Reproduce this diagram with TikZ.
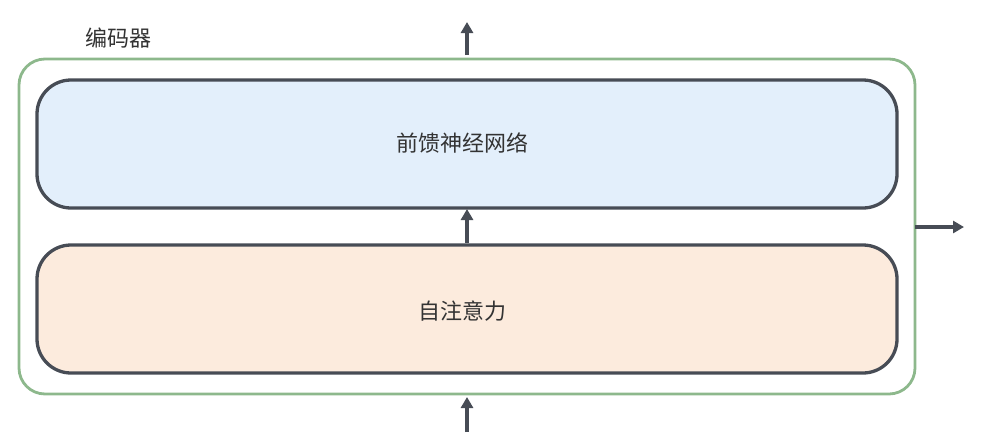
\documentclass[tikz,border=0pt]{standalone}
\usepackage{fontspec}
\newfontfamily\cjk{Noto Sans CJK SC}
\usetikzlibrary{arrows.meta}
\definecolor{edge}{HTML}{474C55}
\definecolor{grn}{HTML}{8DB88C}
\definecolor{bluefill}{HTML}{E3EFFB}
\definecolor{orangefill}{HTML}{FCEBDD}
\definecolor{txt}{HTML}{333333}
\begin{document}
\begin{tikzpicture}[x=1pt,y=-1pt,
  layerbox/.style={draw=edge,line width=3.3pt,rounded corners=34pt},
  flow/.style={draw=edge,line width=3.8pt,-{Triangle[length=11pt,width=12pt]}},
  lbl/.style={font=\cjk\fontsize{22}{25}\selectfont,text=txt,inner sep=0pt}]
\useasboundingbox (0,0) rectangle (981,447);
\draw[grn,line width=2.8pt,rounded corners=26pt] (19,59) rectangle (915,394);
\node[lbl] (enc) at (118,38) {编码器};
\filldraw[layerbox,fill=bluefill] (37,80) rectangle (897,208);
\node[lbl] (ffn) at (462,143) {前馈神经网络};
\filldraw[layerbox,fill=orangefill] (37,245) rectangle (897,373);
\node[lbl] (att) at (462,311) {自注意力};
\coordinate (ffnBot) at (467,209);
\coordinate (attTop) at (467,243);
\coordinate (outTop) at (467,22);
\coordinate (encTop) at (467,55);
\coordinate (encBot) at (467,397);
\coordinate (inBot) at (467,432);
\coordinate (encRight) at (915,227);
\coordinate (outRight) at (964,227);
\draw[flow] (encTop) -- (outTop);
\draw[flow] (attTop) -- (ffnBot);
\draw[flow] (inBot) -- (encBot);
\draw[flow] (encRight) -- (outRight);
\end{tikzpicture}
\end{document}
